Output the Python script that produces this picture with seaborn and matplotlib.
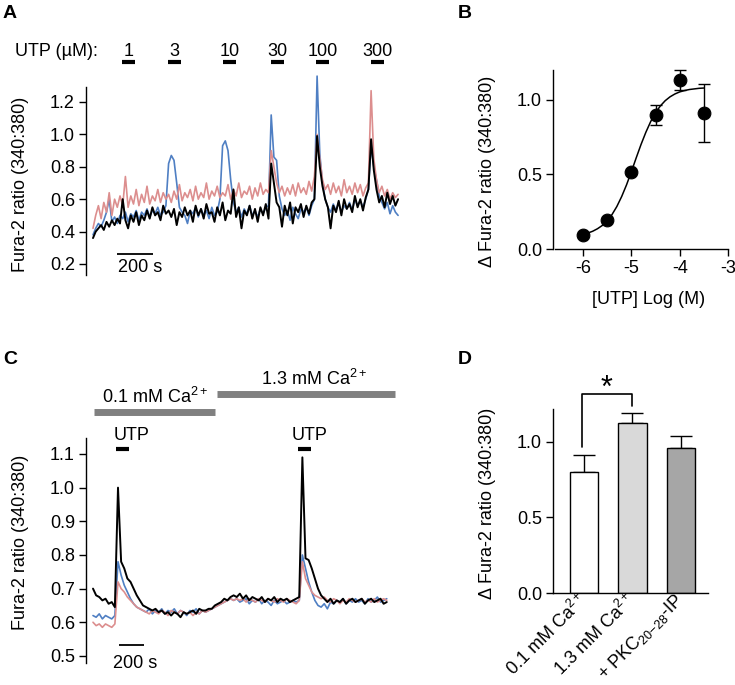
import numpy as np
import pandas as pd
import matplotlib
matplotlib.use('Agg')
import matplotlib.pyplot as plt
import seaborn as sns
from matplotlib.transforms import blended_transform_factory as blend

# ---------------- data ----------------
# Panel A: Fura-2 ratio traces, one value every 15 s
a_step = 15
a_blue = [0.38, 0.42, 0.45, 0.43, 0.47, 0.52, 0.60, 0.46, 0.49, 0.45,
          0.50, 0.48, 0.52, 0.46, 0.51, 0.49, 0.53, 0.47, 0.52, 0.50,
          0.54, 0.49, 0.53, 0.51, 0.55, 0.50, 0.52, 0.56, 0.82, 0.87,
          0.84, 0.70, 0.55, 0.52, 0.50, 0.45, 0.53, 0.51, 0.55, 0.49,
          0.54, 0.50, 0.53, 0.48, 0.55, 0.50, 0.52, 0.60, 0.93, 0.96,
          0.90, 0.72, 0.58, 0.52, 0.55, 0.49, 0.54, 0.51, 0.56, 0.50,
          0.53, 0.49, 0.54, 0.51, 0.55, 0.56, 1.12, 0.86, 0.84, 0.62,
          0.54, 0.50, 0.53, 0.47, 0.55, 0.51, 0.48, 0.54, 0.52, 0.55,
          0.50, 0.56, 0.60, 1.36, 0.88, 0.70, 0.60, 0.55, 0.52, 0.57,
          0.53, 0.58, 0.52, 0.56, 0.54, 0.58, 0.53, 0.60, 0.56, 0.59,
          0.55, 0.60, 0.66, 0.93, 0.80, 0.72, 0.62, 0.58, 0.54, 0.58,
          0.51, 0.56, 0.52, 0.50]
a_red = [0.42, 0.50, 0.56, 0.48, 0.58, 0.52, 0.64, 0.50, 0.60, 0.55,
         0.62, 0.56, 0.74, 0.55, 0.62, 0.57, 0.66, 0.56, 0.63, 0.58,
         0.68, 0.57, 0.62, 0.59, 0.66, 0.58, 0.64, 0.60, 0.63, 0.58,
         0.65, 0.60, 0.69, 0.59, 0.64, 0.61, 0.66, 0.59, 0.68, 0.60,
         0.64, 0.61, 0.70, 0.60, 0.65, 0.62, 0.68, 0.61, 0.64, 0.62,
         0.69, 0.60, 0.66, 0.62, 0.70, 0.61, 0.65, 0.63, 0.68, 0.60,
         0.67, 0.62, 0.70, 0.63, 0.66, 0.64, 0.90, 0.80, 0.70, 0.64,
         0.68, 0.62, 0.67, 0.63, 0.69, 0.62, 0.70, 0.64, 0.67, 0.63,
         0.71, 0.65, 0.74, 1.00, 0.85, 0.72, 0.66, 0.69, 0.63, 0.70,
         0.64, 0.68, 0.62, 0.72, 0.64, 0.68, 0.63, 0.70, 0.64, 0.69,
         0.62, 0.67, 0.70, 1.27, 0.85, 0.72, 0.64, 0.68, 0.62, 0.66,
         0.60, 0.64, 0.61, 0.63]
a_black = [0.36, 0.40, 0.42, 0.44, 0.41, 0.46, 0.43, 0.47, 0.44, 0.48,
           0.45, 0.60, 0.47, 0.42, 0.50, 0.46, 0.52, 0.44, 0.50, 0.47,
           0.53, 0.48, 0.55, 0.50, 0.52, 0.47, 0.56, 0.51, 0.53, 0.49,
           0.54, 0.44, 0.52, 0.49, 0.55, 0.50, 0.53, 0.46, 0.56, 0.50,
           0.54, 0.48, 0.57, 0.51, 0.52, 0.46, 0.55, 0.50, 0.58, 0.47,
           0.53, 0.51, 0.66, 0.49, 0.55, 0.42, 0.53, 0.50, 0.56, 0.48,
           0.54, 0.46, 0.55, 0.50, 0.57, 0.48, 0.82, 0.70, 0.58, 0.55,
           0.43, 0.56, 0.50, 0.58, 0.45, 0.55, 0.52, 0.57, 0.49, 0.56,
           0.51, 0.58, 0.60, 0.99, 0.80, 0.68, 0.60, 0.55, 0.42, 0.56,
           0.52, 0.59, 0.50, 0.60, 0.54, 0.57, 0.52, 0.62, 0.55, 0.60,
           0.53, 0.61, 0.66, 0.97, 0.78, 0.66, 0.58, 0.62, 0.55, 0.64,
           0.57, 0.62, 0.56, 0.60]
utp_conc = ['1', '3', '10', '30', '100', '300']
utp_start_a = [161, 417, 722, 989, 1239, 1544]
utp_len_a = 70
a_yticks = [0.2, 0.4, 0.6, 0.8, 1.0, 1.2]

# Panel B: concentration-response
log_utp = [-6, -5.5, -5, -4.5, -4, -3.5]
b_mean = [0.092, 0.195, 0.515, 0.899, 1.134, 0.911]
b_sem = [0.01, 0.01, 0.01, 0.066, 0.065, 0.193]
fit_x = [-6.0, -5.9, -5.8, -5.7, -5.6, -5.5, -5.4, -5.3, -5.2, -5.1, -5.0,
         -4.9, -4.8, -4.7, -4.6, -4.5, -4.4, -4.3, -4.2, -4.1, -4.0,
         -3.9, -3.8, -3.7, -3.6, -3.5]
fit_y = [0.099, 0.107, 0.119, 0.136, 0.158, 0.190, 0.231, 0.285, 0.352, 0.430, 0.518,
         0.611, 0.701, 0.783, 0.855, 0.914, 0.960, 0.995, 1.021, 1.040, 1.054,
         1.063, 1.070, 1.074, 1.078, 1.080]

# Panel C: traces, one value every 25 s
c_step = 25
c_blue = [0.62, 0.615, 0.625, 0.61, 0.62, 0.615, 0.61, 0.62, 0.78, 0.74,
          0.71, 0.69, 0.67, 0.655, 0.645, 0.64, 0.635, 0.63, 0.64, 0.625,
          0.635, 0.63, 0.64, 0.625, 0.635, 0.63, 0.64, 0.625, 0.635, 0.63,
          0.62, 0.635, 0.63, 0.64, 0.625, 0.635, 0.63, 0.635, 0.64, 0.645,
          0.65, 0.655, 0.66, 0.665, 0.67, 0.665, 0.67, 0.66, 0.665, 0.67,
          0.655, 0.665, 0.66, 0.67, 0.655, 0.665, 0.66, 0.65, 0.665, 0.655,
          0.66, 0.665, 0.655, 0.66, 0.665, 0.66, 0.665, 0.80, 0.76, 0.72,
          0.69, 0.665, 0.65, 0.645, 0.655, 0.64, 0.66, 0.655, 0.665, 0.66,
          0.67, 0.655, 0.665, 0.66, 0.67, 0.66, 0.665, 0.655, 0.67, 0.66,
          0.665, 0.675, 0.66, 0.665, 0.67]
c_red = [0.60, 0.59, 0.595, 0.585, 0.595, 0.59, 0.585, 0.595, 0.72, 0.70,
         0.69, 0.675, 0.665, 0.655, 0.645, 0.64, 0.635, 0.63, 0.625, 0.635,
         0.63, 0.625, 0.635, 0.63, 0.62, 0.635, 0.63, 0.625, 0.635, 0.63,
         0.625, 0.63, 0.62, 0.63, 0.625, 0.635, 0.63, 0.635, 0.64, 0.645,
         0.65, 0.655, 0.66, 0.665, 0.67, 0.665, 0.67, 0.665, 0.67, 0.66,
         0.67, 0.665, 0.66, 0.67, 0.665, 0.66, 0.67, 0.665, 0.66, 0.67,
         0.665, 0.66, 0.67, 0.665, 0.66, 0.655, 0.665, 0.78, 0.73, 0.71,
         0.69, 0.68, 0.675, 0.67, 0.675, 0.665, 0.66, 0.67, 0.665, 0.655,
         0.665, 0.66, 0.67, 0.665, 0.66, 0.665, 0.67, 0.66, 0.665, 0.66,
         0.67, 0.66, 0.665, 0.67, 0.665]
c_black = [0.70, 0.68, 0.675, 0.665, 0.67, 0.655, 0.66, 0.645, 1.00, 0.78,
           0.76, 0.73, 0.72, 0.70, 0.68, 0.665, 0.65, 0.645, 0.64, 0.635,
           0.64, 0.63, 0.635, 0.625, 0.63, 0.62, 0.63, 0.625, 0.615, 0.63,
           0.625, 0.63, 0.635, 0.625, 0.64, 0.635, 0.635, 0.64, 0.64, 0.65,
           0.655, 0.66, 0.67, 0.665, 0.675, 0.68, 0.675, 0.685, 0.67, 0.68,
           0.665, 0.675, 0.67, 0.665, 0.675, 0.66, 0.67, 0.665, 0.675, 0.66,
           0.67, 0.665, 0.67, 0.66, 0.665, 0.67, 0.675, 1.09, 0.79, 0.785,
           0.76, 0.73, 0.70, 0.68, 0.67, 0.66, 0.67, 0.655, 0.665, 0.66,
           0.67, 0.655, 0.665, 0.67, 0.66, 0.665, 0.67, 0.655, 0.665, 0.67,
           0.66, 0.665, 0.67, 0.655, 0.66]
c_utp_start = [184, 1640]
c_utp_len = 104
ca_labels = ['0.1 mM Ca$^{2+}$', '1.3 mM Ca$^{2+}$']
ca_start = [8, 992]
ca_end = [976, 2416]
c_yticks = [0.5, 0.6, 0.7, 0.8, 0.9, 1.0, 1.1]

# Panel D: bar summary
d_labels = ['0.1 mM Ca$^{2+}$', '1.3 mM Ca$^{2+}$', '+ PKC$_{20\\mathrm{-}28}$-IP']
d_mean = [0.80, 1.125, 0.96]
d_sem = [0.115, 0.07, 0.077]
d_colors = ['#ffffff', '#d9d9d9', '#a6a6a6']

BLUE = '#4f7fc3'
RED = '#dc8e8e'

# ---------------- style ----------------
sns.set_theme(style='ticks')
plt.rcParams['font.family'] = ['Liberation Sans', 'DejaVu Sans']
plt.rcParams.update({
    'mathtext.fontset': 'custom',
    'mathtext.rm': 'Liberation Sans',
    'mathtext.it': 'Liberation Sans:italic',
    'mathtext.bf': 'Liberation Sans:bold',
    'axes.unicode_minus': False,
    'axes.edgecolor': 'black',
    'axes.linewidth': 1.0,
    'text.color': 'black',
    'xtick.color': 'black',
    'ytick.color': 'black',
    'axes.labelcolor': 'black',
    'font.size': 13,
})

W, H = 735, 685
fig = plt.figure(figsize=(W / 100, H / 100), dpi=100)
fig.patch.set_facecolor('white')


def rect(l, t, r, b):
    return [l / W, 1 - b / H, (r - l) / W, (b - t) / H]


def fy(py):
    return 1 - py / H


def style_y(ax):
    ax.tick_params(axis='y', length=5, width=1, pad=3, labelsize=13, direction='out')


FS = 13

# ---------------- Panel A ----------------
axA = fig.add_axes(rect(86, 70, 400, 275))
for vals, col, lw in [(a_blue, BLUE, 1.2), (a_red, RED, 1.2), (a_black, 'black', 1.4)]:
    t = np.arange(len(vals)) * a_step
    sns.lineplot(x=t, y=vals, color=col, lw=lw, ax=axA, estimator=None, sort=False)
axA.set_xlim(-38.9, 1705.6)
axA.set_ylim(0.132, 1.3975)
for s in ['top', 'right', 'bottom']:
    axA.spines[s].set_visible(False)
axA.spines['left'].set_bounds(0.132, 1.293)
axA.set_xticks([])
axA.set_yticks(a_yticks)
axA.set_yticklabels([f'{v:.1f}' for v in a_yticks])
style_y(axA)
axA.set_xlabel('')
axA.set_ylabel('')
axA.set_facecolor('none')
trA = blend(axA.transData, fig.transFigure)
for s, lab in zip(utp_start_a, utp_conc):
    axA.plot([s, s + utp_len_a], [fy(62)] * 2, transform=trA, color='black', lw=3,
             solid_capstyle='butt', clip_on=False)
    axA.text(s + utp_len_a / 2, fy(52), lab, transform=trA, ha='center', va='center', fontsize=FS)
fig.text(15 / W, fy(52), 'UTP (µM):', ha='left', va='center', fontsize=FS)
axA.plot([133, 333], [0.262, 0.262], color='black', lw=1.3, solid_capstyle='butt')
axA.text(261, 0.181, '200 s', ha='center', va='center', fontsize=FS)
fig.text(21 / W, fy(184), 'Fura-2 ratio (340:380)', rotation=90, ha='center', va='center', fontsize=FS)

# ---------------- Panel B ----------------
axB = fig.add_axes(rect(553, 60, 730, 249))
axB.errorbar(log_utp, b_mean, yerr=b_sem, fmt='none', ecolor='black', elinewidth=1.0,
             capsize=4, capthick=1.0, zorder=2)
sns.lineplot(x=fit_x, y=fit_y, color='black', lw=1.1, ax=axB, estimator=None, sort=False, zorder=2)
sns.scatterplot(x=log_utp, y=b_mean, color='black', s=85, edgecolor='black', ax=axB, zorder=3)
axB.set_xlim(-6.62, -2.96)
axB.set_ylim(0, 1.268)
for s in ['top', 'right']:
    axB.spines[s].set_visible(False)
axB.spines['left'].set_bounds(0, 1.2)
axB.spines['bottom'].set_bounds(-6.58, -3)
axB.set_xticks([-6, -5, -4, -3])
axB.set_xticklabels(['-6', '-5', '-4', '-3'])
axB.set_yticks([0, 0.5, 1.0])
axB.set_yticklabels(['0.0', '0.5', '1.0'])
style_y(axB)
axB.tick_params(axis='x', length=5, width=1, pad=3, labelsize=13)
axB.set_xlabel('')
axB.set_ylabel('')
for sp in axB.spines.values():
    sp.set_clip_on(False)
fig.text(649 / W, fy(299), '[UTP] Log (M)', ha='center', va='center', fontsize=FS)
fig.text(487 / W, fy(171), 'Δ Fura-2 ratio (340:380)', rotation=90, ha='center', va='center', fontsize=FS)

# ---------------- Panel C ----------------
axC = fig.add_axes(rect(86, 438, 395, 663))
for vals, col, lw in [(c_blue, BLUE, 1.2), (c_red, RED, 1.2), (c_black, 'black', 1.4)]:
    t = np.arange(len(vals)) * c_step
    sns.lineplot(x=t, y=vals, color=col, lw=lw, ax=axC, estimator=None, sort=False)
axC.set_xlim(-56, 2416)
axC.set_ylim(0.479, 1.1475)
for s in ['top', 'right', 'bottom']:
    axC.spines[s].set_visible(False)
axC.set_xticks([])
axC.set_yticks(c_yticks)
axC.set_yticklabels([f'{v:.1f}' for v in c_yticks])
style_y(axC)
axC.set_xlabel('')
axC.set_ylabel('')
axC.set_facecolor('none')
trC = blend(axC.transData, fig.transFigure)
for s0, s1, py in zip(ca_start, ca_end, [412, 394]):
    axC.plot([s0, s1], [fy(py)] * 2, transform=trC, color='#808080', lw=5,
             solid_capstyle='butt', clip_on=False)
fig.text(155 / W, fy(397), ca_labels[0], ha='center', va='center', fontsize=FS)
fig.text(314 / W, fy(379), ca_labels[1], ha='center', va='center', fontsize=FS)
for s, px in zip(c_utp_start, [132, 310]):
    axC.plot([s, s + c_utp_len], [fy(449)] * 2, transform=trC, color='black', lw=3,
             solid_capstyle='butt', clip_on=False)
    fig.text(px / W, fy(435), 'UTP', ha='center', va='center', fontsize=FS)
axC.plot([208, 408], [0.533, 0.533], color='black', lw=1.3, solid_capstyle='butt')
fig.text(135 / W, fy(663), '200 s', ha='center', va='center', fontsize=FS)
fig.text(21 / W, fy(542), 'Fura-2 ratio (340:380)', rotation=90, ha='center', va='center', fontsize=FS)

# ---------------- Panel D ----------------
axD = fig.add_axes(rect(553, 400, 710, 593))
dfD = pd.DataFrame({'cond': d_labels, 'mean': d_mean})
sns.barplot(data=dfD, x='cond', y='mean', hue='cond', palette=d_colors, edgecolor='black',
            linewidth=1.0, width=0.58, legend=False, errorbar=None, ax=axD)
axD.errorbar(range(len(d_mean)), d_mean, yerr=[np.zeros(len(d_sem)), d_sem], fmt='none',
             ecolor='black', elinewidth=1.0, capsize=8, capthick=1.0, zorder=0)
axD.set_xlim(-0.64, 2.60)
axD.set_ylim(0, 1.278)
for s in ['top', 'right']:
    axD.spines[s].set_visible(False)
axD.spines['left'].set_bounds(0, 1.22)
axD.spines['bottom'].set_bounds(-0.64, 2.56)
axD.set_yticks([0, 0.5, 1.0])
axD.set_yticklabels(['0.0', '0.5', '1.0'])
style_y(axD)
axD.set_xticks(range(len(d_labels)))
axD.set_xticklabels(d_labels, rotation=45, ha='right', va='center', rotation_mode='anchor',
                    fontsize=FS)
axD.tick_params(axis='x', length=0, pad=3)
axD.set_xlabel('')
axD.set_ylabel('')
axD.plot([-0.05, -0.05, 1.0, 1.0], [0.967, 1.318, 1.318, 1.238], color='black', lw=1.2,
         clip_on=False)
axD.text(0.47, 1.35, '*', ha='center', va='center', fontsize=22)
fig.text(487 / W, fy(503), 'Δ Fura-2 ratio (340:380)', rotation=90, ha='center', va='center', fontsize=FS)

# ---------------- panel letters ----------------
for lab, px, py in [('A', 10, 14), ('B', 465, 13), ('C', 10, 360), ('D', 465, 360)]:
    fig.text(px / W, fy(py), lab, ha='center', va='center', fontsize=14, fontweight='bold')

fig.savefig('out.png', dpi=100)
